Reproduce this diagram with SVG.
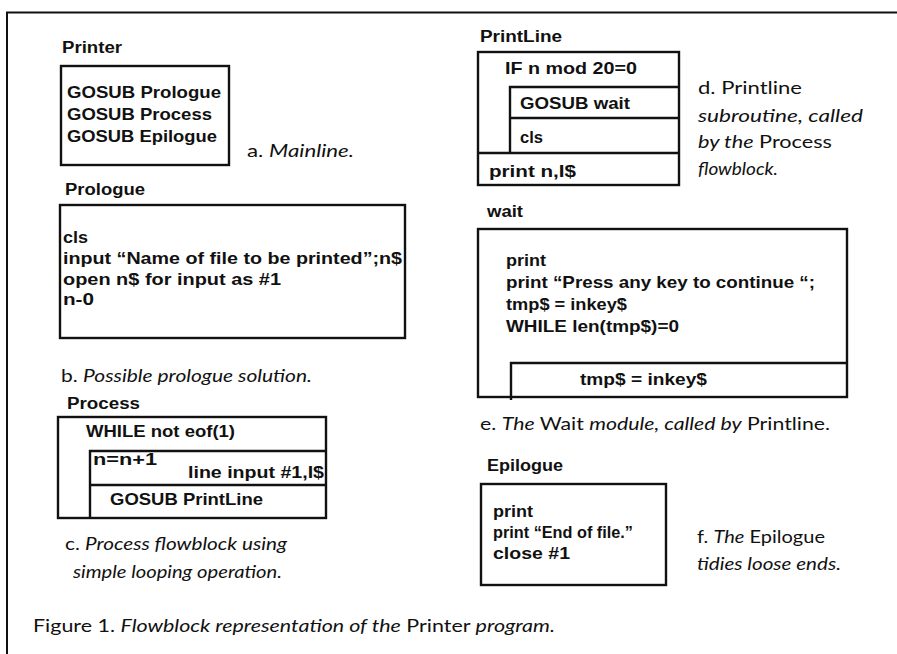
<svg xmlns="http://www.w3.org/2000/svg" width="897" height="654" viewBox="0 0 897 654">
<style>
.bg{fill:#fff}
.frame{fill:none;stroke:#111;stroke-width:2}
.box{fill:none;stroke:#111;stroke-width:2.4}
.ln{stroke:#111;stroke-width:2.4;fill:none}
.code{font-family:"Liberation Sans",Arial,sans-serif;font-weight:bold;font-size:16.5px;fill:#111}
.title{font-family:"Liberation Sans",Arial,sans-serif;font-weight:bold;font-size:16px;fill:#111}
.cap{font-family:Lato,"Open Sans",sans-serif;font-size:18px;fill:#111}
.it{font-style:italic}
</style>
<rect class="bg" x="0" y="0" width="897" height="654"/>
<g id="frame">
<path class="frame" d="M7,654 V12.5 H897"/>
</g>

<g id="printer">
<text class="title" x="62" y="53" textLength="60" lengthAdjust="spacingAndGlyphs">Printer</text>
<rect class="box" x="61" y="66" width="168" height="99"/>
<text class="code" x="67" y="98" textLength="154" lengthAdjust="spacingAndGlyphs">GOSUB Prologue</text>
<text class="code" x="67" y="120" textLength="145" lengthAdjust="spacingAndGlyphs">GOSUB Process</text>
<text class="code" x="67" y="142" textLength="150" lengthAdjust="spacingAndGlyphs">GOSUB Epilogue</text>
<text class="cap" x="247" y="157" textLength="107" lengthAdjust="spacingAndGlyphs">a. <tspan class="it">Mainline.</tspan></text>
</g>

<g id="prologue">
<text class="title" x="65" y="195" textLength="80" lengthAdjust="spacingAndGlyphs">Prologue</text>
<rect class="box" x="60" y="205" width="345" height="133"/>
<text class="code" x="63" y="243" textLength="25" lengthAdjust="spacingAndGlyphs">cls</text>
<text class="code" x="63" y="264" textLength="339" lengthAdjust="spacingAndGlyphs">input “Name of file to be printed”;n$</text>
<text class="code" x="63" y="285" textLength="218" lengthAdjust="spacingAndGlyphs">open n$ for input as #1</text>
<text class="code" x="63" y="305" textLength="31" lengthAdjust="spacingAndGlyphs">n-0</text>
<text class="cap" x="61" y="382" textLength="251" lengthAdjust="spacingAndGlyphs">b. <tspan class="it">Possible prologue solution.</tspan></text>
</g>

<g id="process">
<text class="title" x="67" y="409" textLength="73" lengthAdjust="spacingAndGlyphs">Process</text>
<rect class="box" x="58" y="417" width="268" height="101"/>
<path class="ln" d="M90,518 V451 H326 M90,485 H326"/>
<text class="code" x="86" y="437" textLength="149" lengthAdjust="spacingAndGlyphs">WHILE not eof(1)</text>
<text class="code" x="93" y="465" textLength="64" lengthAdjust="spacingAndGlyphs">n=n+1</text>
<text class="code" x="188" y="478" textLength="136" lengthAdjust="spacingAndGlyphs">line input #1,I$</text>
<text class="code" x="110" y="505" textLength="153" lengthAdjust="spacingAndGlyphs">GOSUB PrintLine</text>
<text class="cap" x="65" y="550" textLength="222" lengthAdjust="spacingAndGlyphs">c. <tspan class="it">Process flowblock using</tspan></text>
<text class="cap it" x="73" y="578" textLength="209" lengthAdjust="spacingAndGlyphs">simple looping operation.</text>
</g>

<g id="printline">
<text class="title" x="480" y="42" textLength="82" lengthAdjust="spacingAndGlyphs">PrintLine</text>
<rect class="box" x="478" y="52" width="201" height="133"/>
<path class="ln" d="M510,153 V87 H679 M510,118 H679 M478,153 H679"/>
<text class="code" x="505" y="74" textLength="132" lengthAdjust="spacingAndGlyphs">IF n mod 20=0</text>
<text class="code" x="520" y="109" textLength="110" lengthAdjust="spacingAndGlyphs">GOSUB wait</text>
<text class="code" x="520" y="143" textLength="23" lengthAdjust="spacingAndGlyphs">cls</text>
<text class="code" x="489" y="177" textLength="87" lengthAdjust="spacingAndGlyphs">print n,I$</text>
<text class="cap" x="698" y="94" textLength="104" lengthAdjust="spacingAndGlyphs">d. Printline</text>
<text class="cap it" x="698" y="122" textLength="165" lengthAdjust="spacingAndGlyphs">subroutine, called</text>
<text class="cap" x="698" y="148" textLength="134" lengthAdjust="spacingAndGlyphs"><tspan class="it">by the</tspan> Process</text>
<text class="cap it" x="698" y="175" textLength="80" lengthAdjust="spacingAndGlyphs">flowblock.</text>
</g>

<g id="wait">
<text class="title" x="487" y="217" textLength="36" lengthAdjust="spacingAndGlyphs">wait</text>
<rect class="box" x="478" y="229" width="369" height="168"/>
<path class="ln" d="M511,400 V363 H847"/>
<text class="code" x="506" y="266" textLength="40" lengthAdjust="spacingAndGlyphs">print</text>
<text class="code" x="506" y="288" textLength="309" lengthAdjust="spacingAndGlyphs">print “Press any key to continue “;</text>
<text class="code" x="506" y="310" textLength="121" lengthAdjust="spacingAndGlyphs">tmp$ = inkey$</text>
<text class="code" x="506" y="332" textLength="173" lengthAdjust="spacingAndGlyphs">WHILE len(tmp$)=0</text>
<text class="code" x="580" y="385" textLength="127" lengthAdjust="spacingAndGlyphs">tmp$ = inkey$</text>
<text class="cap" x="480" y="430" textLength="350" lengthAdjust="spacingAndGlyphs">e. <tspan class="it">The</tspan> Wait <tspan class="it">module, called by</tspan> Printline.</text>
</g>

<g id="epilogue">
<text class="title" x="487" y="471" textLength="76" lengthAdjust="spacingAndGlyphs">Epilogue</text>
<rect class="box" x="481" y="484" width="185" height="101"/>
<text class="code" x="493" y="517" textLength="40" lengthAdjust="spacingAndGlyphs">print</text>
<text class="code" x="493" y="538" textLength="140" lengthAdjust="spacingAndGlyphs">print “End of file.”</text>
<text class="code" x="493" y="559" textLength="77" lengthAdjust="spacingAndGlyphs">close #1</text>
<text class="cap" x="697" y="543" textLength="128" lengthAdjust="spacingAndGlyphs">f. <tspan class="it">The</tspan> Epilogue</text>
<text class="cap it" x="697" y="570" textLength="144" lengthAdjust="spacingAndGlyphs">tidies loose ends.</text>
</g>

<g id="figure-caption">
<text class="cap" x="33" y="632" textLength="522" lengthAdjust="spacingAndGlyphs">Figure 1. <tspan class="it">Flowblock representation of the</tspan> Printer <tspan class="it">program.</tspan></text>
</g>
</svg>
